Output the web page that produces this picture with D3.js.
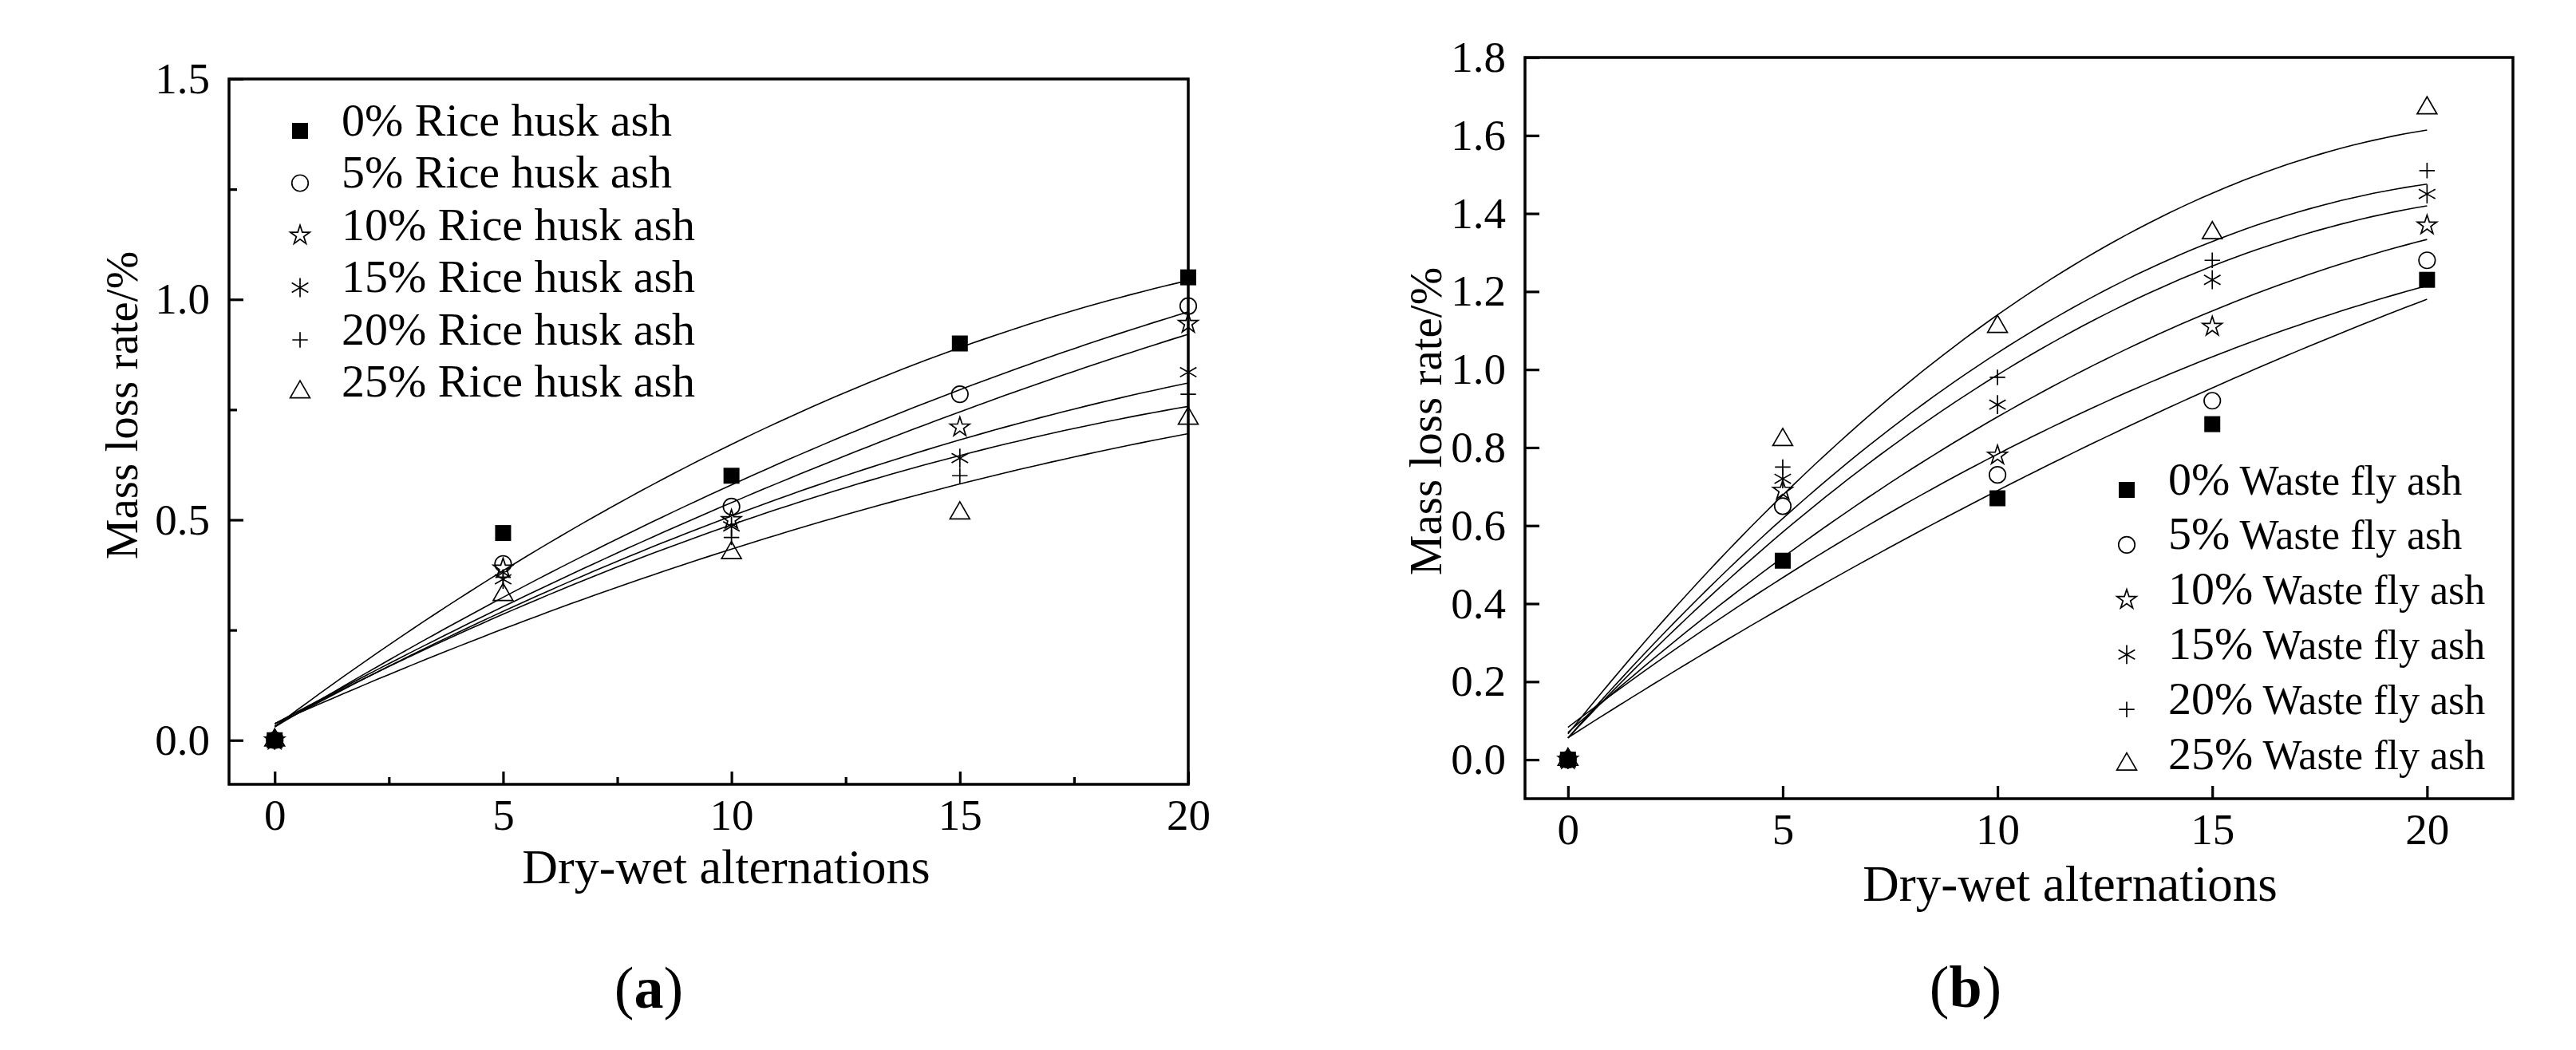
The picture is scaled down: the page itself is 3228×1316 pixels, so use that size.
<!DOCTYPE html>
<html>
<head>
<meta charset="utf-8">
<script src="https://cdn.jsdelivr.net/npm/d3@7"></script>
<style>
  body { margin: 0; background: #fff; }
  svg { display: block; }
  text { font-family: "Liberation Serif", "Times New Roman", serif; fill: #000; }
</style>
</head>
<body>
<div id="chart"></div>
<script>
// dry-wet cycles (x values shared by both panels)
const cycles = [0, 5, 10, 15, 20];

// (a) rice husk ash replacement, mass loss rate %
const riceLabels = ["0%", "5%", "10%", "15%", "20%", "25%"];
const riceHusk0 = [0, 0.47, 0.60, 0.90, 1.05];
const riceHusk5 = [0, 0.40, 0.53, 0.785, 0.985];
const riceHusk10 = [0, 0.39, 0.50, 0.71, 0.945];
const riceHusk15 = [0, 0.365, 0.485, 0.64, 0.835];
const riceHusk20 = [0, 0.37, 0.46, 0.60, 0.785];
const riceHusk25 = [0, 0.33, 0.425, 0.515, 0.73];

// (b) waste fly ash replacement, mass loss rate %
const flyLabels = ["0%", "5%", "10%", "15%", "20%", "25%"];
const wasteFly0 = [0, 0.51, 0.67, 0.86, 1.23];
const wasteFly5 = [0, 0.65, 0.73, 0.92, 1.28];
const wasteFly10 = [0, 0.69, 0.78, 1.11, 1.37];
const wasteFly15 = [0, 0.72, 0.91, 1.23, 1.45];
const wasteFly20 = [0, 0.75, 0.98, 1.28, 1.51];
const wasteFly25 = [0, 0.82, 1.11, 1.35, 1.67];

// ticks
const xTicks = [0, 5, 10, 15, 20];
const xMinorA = [2.5, 7.5, 12.5, 17.5];
const yTicksA = [0, 0.5, 1.0, 1.5];
const yMinorA = [0.25, 0.75, 1.25];
const yTicksB = [0, 0.2, 0.4, 0.6, 0.8, 1.0, 1.2, 1.4, 1.6, 1.8];

const W = 3228, H = 1316;
const FONT = '"Liberation Serif", "Times New Roman", serif';

// marker shapes, in series order
const markers = [
    { type: d3.symbolSquare, size: 400, fill: "#000", stroke: "none" },
    { type: d3.symbolCircle, size: 330, fill: "none", stroke: "#000" },
    { type: d3.symbolStar, size: 185, fill: "none", stroke: "#000" },
    { type: d3.symbolAsterisk, size: 400, fill: "none", stroke: "#000" },
    { type: d3.symbolPlus, size: 125, fill: "none", stroke: "#000" },
    { type: d3.symbolTriangle2, size: 440, fill: "none", stroke: "#000" }
];

// least squares quadratic through the measured points (the fit curves of the original)
function fitQuadratic(xs, ys) {
    let s = [0, 0, 0, 0, 0], t = [0, 0, 0];
    xs.forEach((x, i) => {
        for (let k = 0; k < 5; k++) s[k] += Math.pow(x, k);
        for (let k = 0; k < 3; k++) t[k] += Math.pow(x, k) * ys[i];
    });
    const A = [[s[0], s[1], s[2], t[0]], [s[1], s[2], s[3], t[1]], [s[2], s[3], s[4], t[2]]];
    for (let c = 0; c < 3; c++) {
        for (let r = c + 1; r < 3; r++) {
            const f = A[r][c] / A[c][c];
            for (let k = c; k < 4; k++) A[r][k] -= f * A[c][k];
        }
    }
    const b = [0, 0, 0];
    for (let r = 2; r >= 0; r--) {
        let v = A[r][3];
        for (let k = r + 1; k < 3; k++) v -= A[r][k] * b[k];
        b[r] = v / A[r][r];
    }
    return x => b[0] + b[1] * x + b[2] * x * x;
}

function drawPanel(svg, cfg) {
    const x = d3.scaleLinear().domain(cfg.xDomain).range([cfg.left, cfg.right]);
    const y = d3.scaleLinear().domain(cfg.yDomain).range([cfg.bottom, cfg.top]);
    const g = svg.append("g");

    // fit curves
    const line = d3.line().x(d => x(d[0])).y(d => y(d[1]));
    cfg.series.forEach(vals => {
        const f = fitQuadratic(cycles, vals);
        const pts = d3.range(0, 20.001, 0.25).map(v => [v, f(v)]);
        g.append("path")
            .attr("d", line(pts))
            .attr("fill", "none")
            .attr("stroke", "#000")
            .attr("stroke-width", 1.6);
    });

    // data markers
    cfg.series.forEach((vals, i) => {
        const m = markers[i];
        g.selectAll(null)
            .data(vals.map((v, j) => [cycles[j], v]))
            .enter().append("path")
            .attr("d", d3.symbol().type(m.type).size(m.size))
            .attr("transform", d => "translate(" + x(d[0]) + "," + y(d[1]) + ")")
            .attr("fill", m.fill)
            .attr("stroke", m.stroke)
            .attr("stroke-width", 1.7);
    });

    // axes with inward ticks
    g.append("g")
        .attr("transform", "translate(0," + cfg.bottom + ")")
        .call(d3.axisBottom(x).tickValues(xTicks).tickSizeInner(-16).tickSizeOuter(0).tickPadding(18));
    if (cfg.xMinor) {
        g.append("g")
            .attr("transform", "translate(0," + cfg.bottom + ")")
            .call(d3.axisBottom(x).tickValues(cfg.xMinor).tickSize(-9).tickFormat(""));
    }
    g.append("g")
        .attr("transform", "translate(" + cfg.left + ",0)")
        .call(d3.axisLeft(y).tickValues(cfg.yTicks).tickFormat(d3.format(".1f"))
            .tickSizeInner(-18).tickSizeOuter(0).tickPadding(24));
    if (cfg.yMinor) {
        g.append("g")
            .attr("transform", "translate(" + cfg.left + ",0)")
            .call(d3.axisLeft(y).tickValues(cfg.yMinor).tickSize(-10).tickFormat(""));
    }
    g.selectAll(".domain").remove();
    g.selectAll(".tick line").attr("stroke", "#000").attr("stroke-width", 3.2);
    g.selectAll(".tick text").attr("font-family", FONT).attr("font-size", 55).attr("fill", "#000");

    // frame
    g.append("rect")
        .attr("x", cfg.left).attr("y", cfg.top)
        .attr("width", cfg.right - cfg.left).attr("height", cfg.bottom - cfg.top)
        .attr("fill", "none").attr("stroke", "#000").attr("stroke-width", 3.5);

    // axis titles
    g.append("text")
        .attr("x", cfg.xTitle[0]).attr("y", cfg.xTitle[1])
        .attr("text-anchor", "middle")
        .attr("font-size", cfg.xTitleSize)
        .text("Dry-wet alternations");
    g.append("text")
        .attr("transform", "translate(" + cfg.yTitle[0] + "," + cfg.yTitle[1] + ") rotate(-90)")
        .attr("text-anchor", "middle")
        .attr("font-size", 57)
        .text("Mass loss rate/%");

    // legend
    cfg.labels.forEach((lab, i) => {
        const ly = cfg.legend.y + i * cfg.legend.step;
        const m = markers[i];
        g.append("path")
            .attr("d", d3.symbol().type(m.type).size(m.size))
            .attr("transform", "translate(" + cfg.legend.x + "," + ly + ")")
            .attr("fill", m.fill)
            .attr("stroke", m.stroke)
            .attr("stroke-width", 1.7);
        const t = g.append("text")
            .attr("x", cfg.legend.x + 52)
            .attr("y", ly)
            .attr("dy", "0.35em");
        t.append("tspan").attr("font-size", cfg.legend.pctSize).text(lab);
        t.append("tspan").attr("font-size", cfg.legend.nameSize).text(" " + cfg.legend.name);
    });

    // panel letter
    const p = g.append("text")
        .attr("x", cfg.letter[0]).attr("y", cfg.letter[1])
        .attr("text-anchor", "middle")
        .attr("dy", "0.35em")
        .attr("font-size", 74);
    p.append("tspan").text("(");
    p.append("tspan").attr("font-weight", "bold").text(cfg.letterText);
    p.append("tspan").text(")");
}

const svg = d3.select("#chart").append("svg")
    .attr("width", W).attr("height", H);
svg.append("rect").attr("width", W).attr("height", H).attr("fill", "#fff");

drawPanel(svg, {
    left: 287, right: 1489, top: 99, bottom: 983,
    xDomain: [-1, 20], yDomain: [-0.1, 1.5],
    yTicks: yTicksA, yMinor: yMinorA, xMinor: xMinorA,
    series: [riceHusk0, riceHusk5, riceHusk10, riceHusk15, riceHusk20, riceHusk25],
    labels: riceLabels,
    legend: { x: 376, y: 164, step: 65.5, name: "Rice husk ash", pctSize: 58, nameSize: 58 },
    xTitle: [910, 1107], xTitleSize: 62,
    yTitle: [172, 508],
    letter: [813, 1237], letterText: "a"
});

drawPanel(svg, {
    left: 1911, right: 3149, top: 72, bottom: 1001,
    xDomain: [-1, 22], yDomain: [-0.1, 1.8],
    yTicks: yTicksB,
    series: [wasteFly0, wasteFly5, wasteFly10, wasteFly15, wasteFly20, wasteFly25],
    labels: flyLabels,
    legend: { x: 2665, y: 614, step: 68.8, name: "Waste fly ash", pctSize: 58, nameSize: 52 },
    xTitle: [2594, 1129], xTitleSize: 63,
    yTitle: [1806, 528],
    letter: [2463, 1236], letterText: "b"
});
</script>
</body>
</html>
